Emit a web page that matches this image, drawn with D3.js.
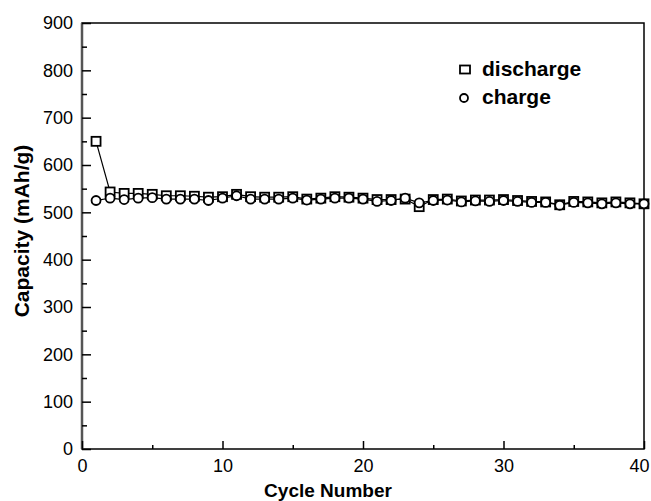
<!DOCTYPE html>
<html>
<head>
<meta charset="utf-8">
<script src="https://cdn.jsdelivr.net/npm/d3@7"></script>
<style>
  body { margin: 0; background: #fff; }
  text { font-family: "Liberation Sans", Arial, sans-serif; fill: #000; }
</style>
</head>
<body>
<svg id="chart" width="651" height="501"></svg>
<script>
"use strict"

// cycle numbers
const cycles = d3.range(1, 41)
// discharge capacity (mAh/g)
const discharge = [650, 543, 540, 540, 538, 535, 535, 534, 532, 533,
                   538, 533, 532, 532, 533, 528, 530, 533, 532, 530,
                   527, 527, 528, 512, 527, 528, 524, 526, 526, 527,
                   525, 523, 522, 516, 523, 522, 520, 522, 520, 518]
// charge capacity (mAh/g)
const charge = [525, 530, 527, 530, 531, 528, 528, 528, 525, 530,
                535, 528, 528, 528, 530, 526, 528, 530, 530, 528,
                523, 525, 530, 520, 525, 526, 522, 524, 523, 525,
                523, 521, 521, 515, 521, 520, 518, 520, 518, 518]
const xTicks = [0, 10, 20, 30, 40]
const yTicks = [0, 100, 200, 300, 400, 500, 600, 700, 800, 900]
const seriesNames = ["discharge", "charge"]

const svg = d3.select("#chart")
const plotLeft = 82, plotRight = 644, plotTop = 23, plotBottom = 449

const x = d3.scaleLinear().domain([0, 40]).range([plotLeft, plotRight])
const y = d3.scaleLinear().domain([0, 900]).range([plotBottom, plotTop])

// frame
svg.append("rect")
    .attr("x", plotLeft).attr("y", plotTop)
    .attr("width", plotRight - plotLeft).attr("height", plotBottom - plotTop)
    .attr("fill", "none").attr("stroke", "#000").attr("stroke-width", 1.5)
svg.append("line")
    .attr("x1", plotLeft).attr("x2", plotLeft).attr("y1", plotTop).attr("y2", plotBottom)
    .attr("stroke", "#555").attr("stroke-width", 2.5)

// x axis, ticks pointing inward
const xAxis = svg.append("g").attr("transform", `translate(0,${plotBottom})`)
xAxis.call(d3.axisBottom(x).tickValues(xTicks).tickSize(-8).tickPadding(10))
xAxis.append("g").call(d3.axisBottom(x).tickValues([5, 15, 25, 35]).tickSize(-4).tickFormat(""))
xAxis.selectAll(".domain").remove()
xAxis.selectAll("line").attr("stroke", "#000").attr("stroke-width", 1.5)
xAxis.selectAll("text").attr("font-size", 18).attr("fill", "#000")
    .attr("dx", d => d === 40 ? -5 : 0)

// y axis
const yAxis = svg.append("g").attr("transform", `translate(${plotLeft},0)`)
yAxis.call(d3.axisLeft(y).tickValues(yTicks).tickSize(-9).tickPadding(9))
yAxis.append("g").call(d3.axisLeft(y).tickValues(d3.range(50, 900, 100)).tickSize(-5).tickFormat(""))
yAxis.selectAll(".domain").remove()
yAxis.selectAll("line").attr("stroke", "#000").attr("stroke-width", 1.5)
yAxis.selectAll("text").attr("font-size", 18).attr("fill", "#000")

// axis titles
svg.append("text")
    .attr("x", 328).attr("y", 497)
    .attr("text-anchor", "middle")
    .attr("font-size", 19).attr("font-weight", "bold")
    .text("Cycle Number")
svg.append("text")
    .attr("transform", "translate(29,231) rotate(-90)")
    .attr("text-anchor", "middle")
    .attr("font-size", 21).attr("font-weight", "bold")
    .text("Capacity (mAh/g)")

const line = d3.line().x((d, i) => x(cycles[i])).y(d => y(d))

// lines
;[discharge, charge].forEach(vals => {
    svg.append("path")
        .attr("d", line(vals))
        .attr("fill", "none").attr("stroke", "#000").attr("stroke-width", 1.2)
})

// discharge markers (squares)
svg.append("g").selectAll("rect")
    .data(discharge)
    .join("rect")
    .attr("x", (d, i) => x(cycles[i]) - 4.5)
    .attr("y", d => y(d) - 4.5)
    .attr("width", 9).attr("height", 9)
    .attr("fill", "#fff").attr("stroke", "#000").attr("stroke-width", 1.8)

// charge markers (circles)
svg.append("g").selectAll("circle")
    .data(charge)
    .join("circle")
    .attr("cx", (d, i) => x(cycles[i]))
    .attr("cy", d => y(d))
    .attr("r", 4.5)
    .attr("fill", "#fff").attr("stroke", "#000").attr("stroke-width", 1.8)

// legend
const legend = svg.append("g")
legend.append("rect")
    .attr("x", 460).attr("y", 65.5).attr("width", 10).attr("height", 8)
    .attr("fill", "#fff").attr("stroke", "#000").attr("stroke-width", 1.8)
legend.append("circle")
    .attr("cx", 464).attr("cy", 98).attr("r", 4)
    .attr("fill", "#fff").attr("stroke", "#000").attr("stroke-width", 1.8)
legend.selectAll("text")
    .data(seriesNames)
    .join("text")
    .attr("x", 482)
    .attr("y", (d, i) => 76 + i * 28)
    .attr("font-size", 21).attr("font-weight", "bold")
    .text(d => d)
</script>
</body>
</html>
